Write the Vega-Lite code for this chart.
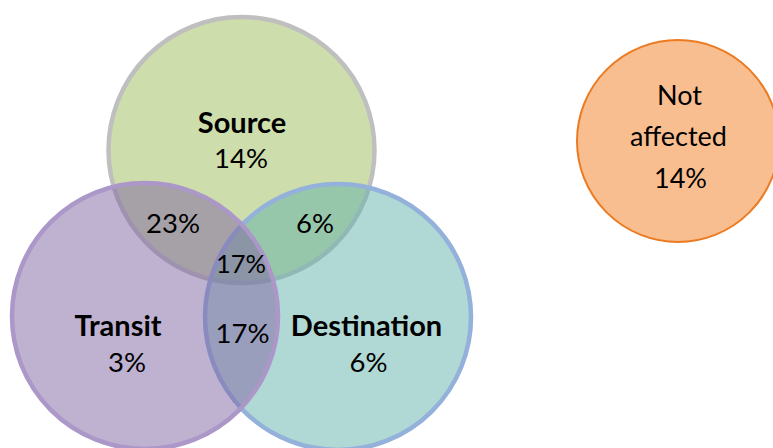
{
  "$schema": "https://vega.github.io/schema/vega-lite/v6.json",
  "width": 773,
  "height": 448,
  "autosize": {"type": "none"},
  "padding": 0,
  "background": "white",
  "config": {"view": {"stroke": null}},
  "datasets": {
    "sets": [
      {"set": "Source", "x": 241.5, "y": 150},
      {"set": "Destination", "x": 338, "y": 317},
      {"set": "Transit", "x": 145, "y": 316}
    ],
    "other": [
      {"set": "Not affected", "x": 678, "y": 141}
    ],
    "names": [
      {"label": "Source", "x": 242, "y": 133},
      {"label": "Transit", "x": 118, "y": 336},
      {"label": "Destination", "x": 366.5, "y": 336}
    ],
    "shares": [
      {"region": "Source only", "label": "14%", "x": 241, "y": 168},
      {"region": "Source & Transit", "label": "23%", "x": 173, "y": 233},
      {"region": "Source & Destination", "label": "6%", "x": 315, "y": 233},
      {"region": "Transit & Destination", "label": "17%", "x": 242.5, "y": 343},
      {"region": "Transit only", "label": "3%", "x": 127, "y": 372},
      {"region": "Destination only", "label": "6%", "x": 368.5, "y": 372}
    ],
    "core": [
      {"region": "All three", "label": "17%", "x": 241, "y": 273}
    ],
    "notaff": [
      {"label": "Not", "x": 679.5, "y": 105},
      {"label": "affected", "x": 678.5, "y": 146},
      {"label": "14%", "x": 680.5, "y": 188}
    ]
  },
  "encoding": {
    "x": {"field": "x", "type": "quantitative", "scale": {"domain": [0, 773], "nice": false, "zero": false}, "axis": null},
    "y": {"field": "y", "type": "quantitative", "scale": {"domain": [0, 448], "nice": false, "zero": false, "reverse": true}, "axis": null}
  },
  "layer": [
    {
      "data": {"name": "sets"},
      "mark": {"type": "point", "shape": "circle", "filled": true, "size": 70756, "fillOpacity": 0.5, "strokeOpacity": 1, "strokeWidth": 4.5, "opacity": 1},
      "encoding": {
        "fill": {"field": "set", "type": "nominal", "scale": {"domain": ["Source", "Destination", "Transit"], "range": ["#9bbb59", "#61b1a9", "#8064a2"]}, "legend": null},
        "stroke": {"field": "set", "type": "nominal", "scale": {"domain": ["Source", "Destination", "Transit"], "range": ["#bfbfbf", "#93b1da", "#ab97c8"]}, "legend": null}
      }
    },
    {
      "data": {"name": "other"},
      "mark": {"type": "point", "shape": "circle", "filled": true, "size": 40804, "fill": "#f9be8f", "stroke": "#eb7b22", "strokeWidth": 2, "opacity": 1, "fillOpacity": 1, "strokeOpacity": 1}
    },
    {
      "data": {"name": "names"},
      "mark": {"type": "text", "font": "Lato", "fontWeight": "bold", "fontSize": 29, "align": "center", "baseline": "alphabetic", "color": "#000000"},
      "encoding": {"text": {"field": "label", "type": "nominal"}}
    },
    {
      "data": {"name": "shares"},
      "mark": {"type": "text", "font": "Lato", "fontSize": 27.5, "align": "center", "baseline": "alphabetic", "color": "#000000"},
      "encoding": {"text": {"field": "label", "type": "nominal"}}
    },
    {
      "data": {"name": "core"},
      "mark": {"type": "text", "font": "Lato", "fontSize": 25.5, "align": "center", "baseline": "alphabetic", "color": "#000000"},
      "encoding": {"text": {"field": "label", "type": "nominal"}}
    },
    {
      "data": {"name": "notaff"},
      "mark": {"type": "text", "font": "Lato", "fontSize": 27, "align": "center", "baseline": "alphabetic", "color": "#000000"},
      "encoding": {"text": {"field": "label", "type": "nominal"}}
    }
  ]
}
